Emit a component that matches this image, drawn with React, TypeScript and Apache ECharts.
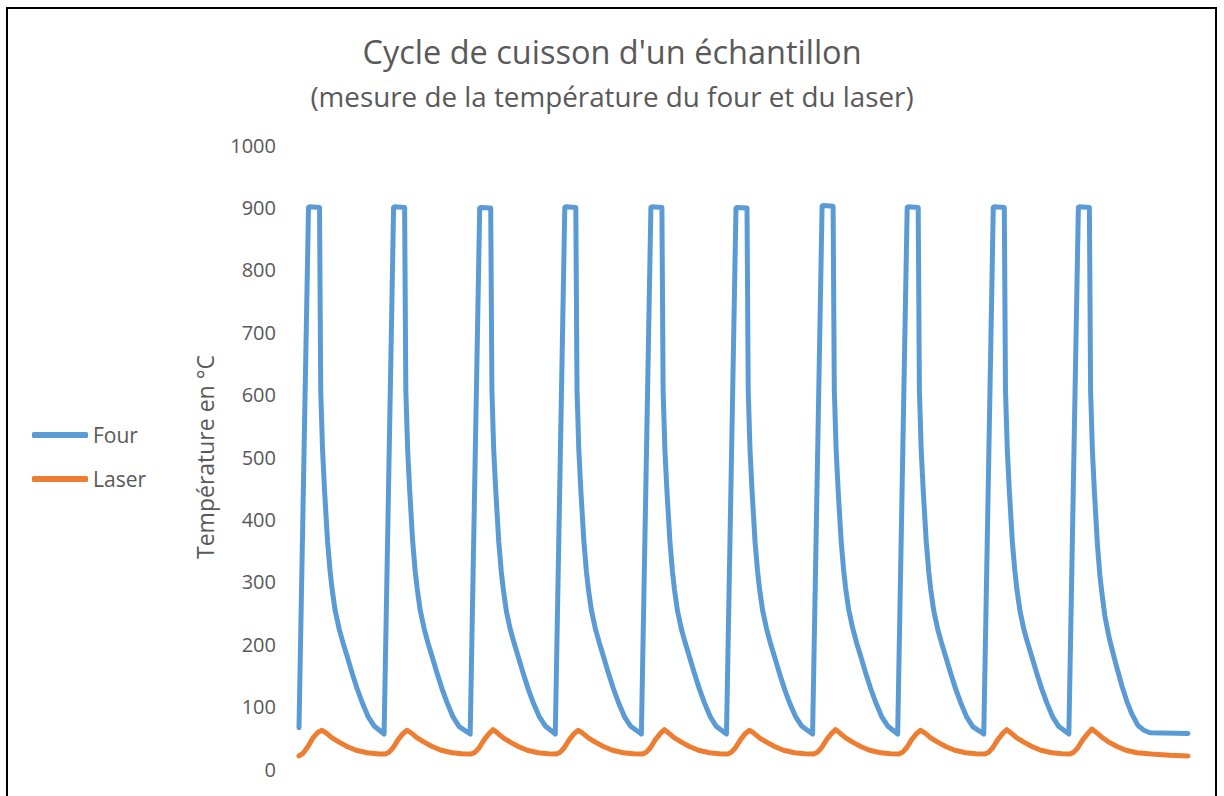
import React, { useEffect, useRef } from "react";
import * as echarts from "echarts";

const chartTitle = "Cycle de cuisson d'un échantillon";
const chartSubtitle = "(mesure de la température du four et du laser)";
const yAxisTitle = "Température en °C";
const seriesNames = ["Four", "Laser"];
const yTicks = { min: 0, max: 1000, step: 100 };
const timeRange = { min: 0, max: 888 };

// Four (oven) temperature: [time, °C]
const fourData: number[][] = [
  [0, 66], [9.5, 900], [10.5, 901], [20.5, 900], [21.7, 607], [23.5, 512], [25.5, 447], [28.5, 365], [31, 318], [33, 289], [36, 255], [40, 225], [44, 202], [48, 181], [53, 154], [58, 129], [63, 107], [69, 84], [75, 69],
  [85, 56], [94.5, 900], [95.5, 901], [105.5, 900], [106.7, 607], [108.5, 513], [110.5, 448], [113.5, 366], [116, 318], [118, 290], [121, 255], [125, 225], [129, 201], [133, 180], [138, 153], [143, 128], [148, 106], [154, 83], [160, 68],
  [171, 56], [180.5, 899], [181.5, 900], [191.5, 899], [192.7, 607], [194.5, 511], [196.5, 447], [199.5, 365], [202, 317], [204, 289], [207, 254], [211, 224], [215, 201], [219, 180], [224, 153], [229, 128], [234, 106], [240, 84], [246, 69],
  [256, 56], [265.5, 900], [266.5, 901], [276.5, 900], [277.7, 607], [279.5, 512], [281.5, 447], [284.5, 366], [287, 318], [289, 289], [292, 255], [296, 225], [300, 202], [304, 181], [309, 154], [314, 129], [319, 107], [325, 84], [331, 69],
  [342, 56], [351.5, 900], [352.5, 901], [362.5, 900], [363.7, 607], [365.5, 511], [367.5, 446], [370.5, 365], [373, 317], [375, 288], [378, 254], [382, 224], [386, 201], [390, 180], [395, 153], [400, 128], [405, 106], [411, 83], [417, 68],
  [427, 56], [436.5, 899], [437.5, 900], [447.5, 899], [448.7, 607], [450.5, 512], [452.5, 447], [455.5, 365], [458, 318], [460, 289], [463, 255], [467, 225], [471, 201], [475, 180], [480, 153], [485, 128], [490, 106], [496, 84], [502, 69],
  [513, 56], [522.5, 902], [523.5, 903], [533.5, 902], [534.7, 608], [536.5, 513], [538.5, 448], [541.5, 366], [544, 319], [546, 290], [549, 256], [553, 226], [557, 202], [561, 181], [566, 154], [571, 129], [576, 107], [582, 84], [588, 69],
  [598, 56], [607.5, 900], [608.5, 901], [618.5, 900], [619.7, 607], [621.5, 511], [623.5, 447], [626.5, 365], [629, 317], [631, 288], [634, 254], [638, 224], [642, 201], [646, 180], [651, 153], [656, 128], [661, 106], [667, 83], [673, 68],
  [684, 56], [693.5, 900], [694.5, 901], [704.5, 900], [705.7, 607], [707.5, 511], [709.5, 447], [712.5, 365], [715, 318], [717, 289], [720, 255], [724, 224], [728, 201], [732, 180], [737, 153], [742, 128], [747, 106], [753, 83], [759, 68],
  [769, 56], [778.5, 900], [779.5, 901], [789.5, 900], [790.7, 607], [792.5, 510], [794.5, 445], [797.5, 360], [800, 310], [802, 282], [805, 245], [809, 212], [813, 186], [817, 162], [822, 133], [827, 108], [832, 88], [838, 70], [844, 62], [850, 58], [888, 57],
];

// Laser temperature: [time, °C]
const laserData: number[][] = [
  [0, 21], [4, 25], [9, 36], [14, 50], [19, 59], [23, 62], [27, 58], [33, 50], [40, 43], [48, 36], [57, 30], [68, 26], [80, 24],
  [86, 24], [90, 27], [94, 34], [99, 47], [104, 57], [108, 62], [112, 58], [118, 50], [125, 43], [133, 36], [142, 30], [153, 26], [163, 24.5],
  [172, 24], [176, 27], [180, 34], [185, 47], [190, 57], [194, 63], [198, 58], [204, 50], [211, 43], [219, 36], [228, 30], [239, 26], [249, 24.5],
  [257, 24], [261, 27], [265, 34], [270, 47], [275, 57], [279, 62], [283, 58], [289, 50], [296, 43], [304, 36], [313, 30], [324, 26], [334, 24.5],
  [343, 24], [347, 27], [351, 34], [356, 47], [361, 57], [365, 63], [369, 58], [375, 50], [382, 43], [390, 36], [399, 30], [410, 26], [420, 24.5],
  [428, 24], [432, 27], [436, 34], [441, 47], [446, 57], [450, 62], [454, 58], [460, 50], [467, 43], [475, 36], [484, 30], [495, 26], [505, 24.5],
  [514, 24], [518, 27], [522, 34], [527, 47], [532, 57], [536, 63], [540, 58], [546, 50], [553, 43], [561, 36], [570, 30], [581, 26], [591, 24.5],
  [599, 24], [603, 27], [607, 34], [612, 47], [617, 57], [621, 62], [625, 58], [631, 50], [638, 43], [646, 36], [655, 30], [666, 26], [676, 24.5],
  [685, 24], [689, 27], [693, 34], [698, 47], [703, 57], [707, 63], [711, 58], [717, 50], [724, 43], [732, 36], [741, 30], [752, 26], [762, 24.5],
  [770, 24], [774, 27], [778, 34], [783, 47], [788, 57], [792, 64], [796, 59], [802, 51], [809, 43], [817, 36], [826, 30], [837, 26], [851, 24], [870, 22], [888, 21],
];

const FONT = "Open Sans";
const TEXT_COLOR = "#595959";
const BLUE = "#5B9BD5";
const ORANGE = "#ED7D31";

export default function App() {
  const ref = useRef<HTMLDivElement>(null);

  useEffect(() => {
    if (!ref.current) return;
    const chart = echarts.init(ref.current, undefined, { renderer: "svg" });
    chart.setOption({
      animation: false,
      backgroundColor: "#ffffff",
      grid: { left: 299, right: 36, top: 145, bottom: 27, containLabel: false },
      xAxis: {
        type: "value",
        min: timeRange.min,
        max: timeRange.max,
        show: false,
      },
      yAxis: {
        type: "value",
        min: yTicks.min,
        max: yTicks.max,
        interval: yTicks.step,
        axisLine: { show: false },
        axisTick: { show: false },
        splitLine: { show: false },
        axisLabel: {
          color: TEXT_COLOR,
          fontSize: 20,
          fontFamily: FONT,
          margin: 23,
          formatter: (v: number) => String(v),
        },
      },
      legend: {
        orient: "vertical",
        left: 32,
        top: 423,
        padding: 0,
        itemWidth: 56,
        itemHeight: 6,
        itemGap: 20,
        icon: "roundRect",
        textStyle: { color: TEXT_COLOR, fontSize: 21, fontFamily: FONT, lineHeight: 24 },
        data: seriesNames,
      },
      graphic: [
        {
          type: "rect",
          shape: { x: 7, y: 8, width: 1209, height: 850 },
          style: { fill: "none", stroke: "#000000", lineWidth: 2 },
          silent: true,
          z: -10,
        },
        {
          type: "text",
          x: 612,
          y: 51,
          style: { text: chartTitle, fill: TEXT_COLOR, fontSize: 32.5, fontFamily: FONT, textAlign: "center", textVerticalAlign: "middle" },
        },
        {
          type: "text",
          x: 612,
          y: 96,
          style: { text: chartSubtitle, fill: TEXT_COLOR, fontSize: 27.8, fontFamily: FONT, textAlign: "center", textVerticalAlign: "middle" },
        },
        {
          type: "text",
          x: 205,
          y: 457,
          rotation: Math.PI / 2,
          style: { text: yAxisTitle, fill: TEXT_COLOR, fontSize: 23, fontFamily: FONT, textAlign: "center", textVerticalAlign: "middle" },
        },
      ],
      series: [
        {
          name: seriesNames[0],
          type: "line",
          data: fourData,
          showSymbol: false,
          color: BLUE,
          lineStyle: { width: 5, color: BLUE, cap: "round", join: "round" },
        },
        {
          name: seriesNames[1],
          type: "line",
          data: laserData,
          showSymbol: false,
          color: ORANGE,
          lineStyle: { width: 5, color: ORANGE, cap: "round", join: "round" },
        },
      ],
    });
    return () => chart.dispose();
  }, []);

  return (
    <div
      ref={ref}
      style={{ position: "fixed", left: 0, top: 0, width: 1224, height: 796 }}
    />
  );
}
